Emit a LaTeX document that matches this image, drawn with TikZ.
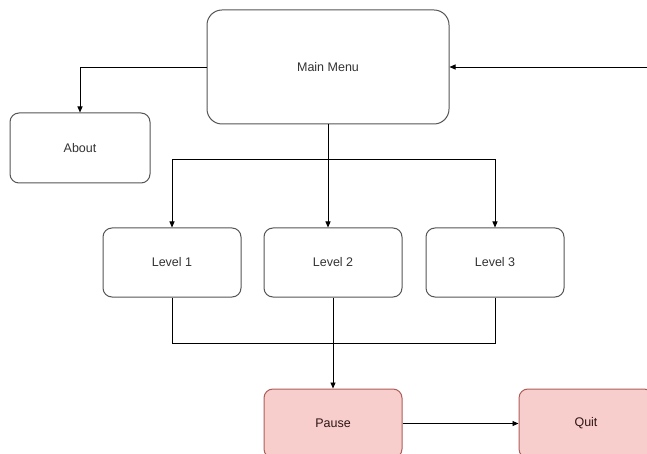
\documentclass[tikz,border=0pt]{standalone}
\usepackage{fontspec}
\setmainfont{Liberation Sans}
\usetikzlibrary{arrows.meta}
\definecolor{pinkfill}{HTML}{F8CECC}
\definecolor{pinkdraw}{HTML}{B85450}
\definecolor{boxdraw}{HTML}{555555}
\begin{document}
\begin{tikzpicture}[x=1pt,y=-1pt,
  box/.style={draw=boxdraw,line width=1pt,fill=white,rounded corners=9pt,
    minimum width=138pt,minimum height=69pt,inner sep=0pt,
    font=\fontsize{12.5}{14}\selectfont,text=black!80},
  bigbox/.style={box,rounded corners=15pt,minimum width=242pt,minimum height=114pt},
  redbox/.style={box,fill=pinkfill,draw=pinkdraw!80!gray,text=black!75!pinkdraw},
  arr/.style={line width=0.9pt,-{Triangle[length=6pt,width=5pt]}},
  ln/.style={line width=0.9pt}]
\useasboundingbox (0,0) rectangle (647,454);
\clip (0,0) rectangle (647,454);
\fill[white] (0,0) rectangle (647,454);
\node[bigbox] (main) at (328,67) {Main Menu};
\node[box,minimum width=140pt,minimum height=70pt] (about) at (80,148) {About};
\node[box] (l1) at (172,262.5) {Level 1};
\node[box] (l2) at (333,262.5) {Level 2};
\node[box] (l3) at (495,262.5) {Level 3};
\node[redbox] (pause) at (333,423.5) {Pause};
\node[redbox,minimum width=134pt] (quit) at (586,423.5) {Quit};
\coordinate (rin) at (650,67);
\coordinate (split) at (328,159);
\coordinate (join) at (333,343);
\draw[arr] (main.west) -| (about.north);
\draw[arr] (rin) -- (main.east);
\draw[ln] (main.south) -- (split);
\draw[arr] (split) -| (l1.north);
\draw[arr] (split) -| (l3.north);
\draw[arr] (split) -- (split |- l2.north);
\draw[ln] (l1.south) |- (join);
\draw[ln] (l3.south) |- (join);
\draw[arr] (l2.south) -- (pause.north);
\draw[arr] (pause) -- (quit);
\end{tikzpicture}
\end{document}
